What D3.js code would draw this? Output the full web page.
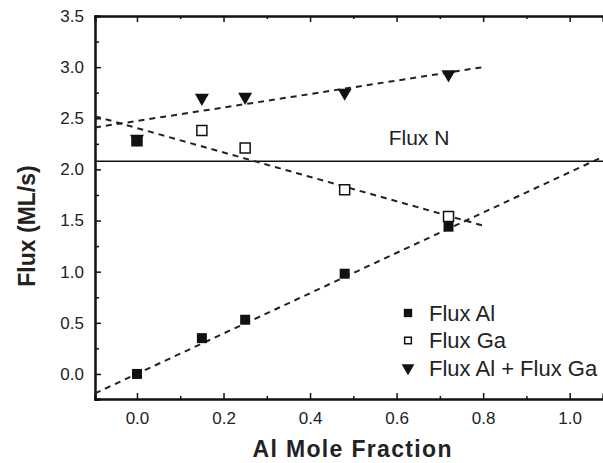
<!DOCTYPE html>
<meta charset="utf-8">
<script src="https://d3js.org/d3.v7.min.js"></script>
<style>
  body { margin: 0; background: #fff; }
  text { font-family: "Liberation Sans", Arial, sans-serif; fill: #222; }
</style>
<div id="chart"></div>
<script>
  // data
  const moleFraction = [0.0, 0.15, 0.25, 0.48, 0.72];
  const fluxAl = [0.0, 0.35, 0.53, 0.98, 1.44];
  const fluxGa = [2.28, 2.38, 2.21, 1.80, 1.54];
  const fluxTotal = [2.30, 2.70, 2.71, 2.75, 2.93];
  const fluxN = 2.08;

  // fitted dashed lines: [x0, y0, x1, y1]
  const fitAl = [[-0.097, -0.19], [1.08, 2.13]];
  const fitGa = [[-0.097, 2.52], [0.80, 1.45]];
  const fitTotal = [[-0.097, 2.41], [0.80, 3.00]];

  const xTicks = [0.0, 0.2, 0.4, 0.6, 0.8, 1.0];
  const yTicks = [0.0, 0.5, 1.0, 1.5, 2.0, 2.5, 3.0, 3.5];

  const W = 603, H = 463;
  const margin = {top: 16, right: 0, bottom: 64, left: 95};

  const svg = d3.select("#chart").append("svg")
      .attr("width", W).attr("height", H);

  const x = d3.scaleLinear().domain([-0.097, 1.077]).range([margin.left, W - margin.right]);
  const y = d3.scaleLinear().domain([-0.245, 3.5]).range([H - margin.bottom, margin.top]);

  // axes: ticks pointing inward
  svg.append("g")
      .attr("transform", `translate(0,${y(-0.245)})`)
      .call(d3.axisBottom(x).tickValues(xTicks).tickSize(-6).tickPadding(13).tickFormat(d3.format(".1f")));
  svg.append("g")
      .attr("transform", `translate(0,${y(-0.245)})`)
      .call(d3.axisBottom(x).tickValues([0.1, 0.3, 0.5, 0.7, 0.9]).tickSize(-3).tickFormat(""));
  svg.append("g")
      .attr("transform", `translate(0,${y(3.5)})`)
      .call(d3.axisTop(x).tickValues(xTicks).tickSize(-6).tickFormat(""));
  svg.append("g")
      .attr("transform", `translate(0,${y(3.5)})`)
      .call(d3.axisTop(x).tickValues([0.1, 0.3, 0.5, 0.7, 0.9]).tickSize(-3).tickFormat(""));
  svg.append("g")
      .attr("transform", `translate(${x(-0.097)},0)`)
      .call(d3.axisLeft(y).tickValues(yTicks).tickSize(-6).tickPadding(11).tickFormat(d3.format(".1f")));
  svg.append("g")
      .attr("transform", `translate(${x(-0.097)},0)`)
      .call(d3.axisLeft(y).tickValues([-0.25, 0.25, 0.75, 1.25, 1.75, 2.25, 2.75, 3.25]).tickSize(-4).tickFormat(""));

  svg.selectAll(".domain").attr("stroke", "#111").attr("stroke-width", 2);
  svg.selectAll(".tick line").attr("stroke", "#111").attr("stroke-width", 1.5);
  svg.selectAll(".tick text").style("font-size", "17px").style("fill", "#222");

  // Flux N horizontal line and label
  svg.append("line")
      .attr("x1", x(-0.097)).attr("x2", x(1.077))
      .attr("y1", y(fluxN)).attr("y2", y(fluxN))
      .attr("stroke", "#111").attr("stroke-width", 1.5);
  svg.append("text")
      .attr("x", 419).attr("y", 145)
      .attr("text-anchor", "middle")
      .style("font-size", "21px")
      .text("Flux N");

  // dashed fits
  const line = d3.line().x(d => x(d[0])).y(d => y(d[1]));
  [fitAl, fitGa, fitTotal].forEach(f => {
    svg.append("path")
      .attr("d", line(f))
      .attr("fill", "none")
      .attr("stroke", "#222")
      .attr("stroke-width", 2)
      .attr("stroke-dasharray", "6,5");
  });

  // markers
  const sq = d3.symbol().type(d3.symbolSquare).size(100);
  const tri = d3.symbol().type(d3.symbolTriangle).size(85);

  // at x = 0 the Ga and total points coincide and print as one solid blob
  svg.append("g").selectAll("path")
    .data(moleFraction.map((m, i) => [m, fluxGa[i], i]))
    .join("path")
      .attr("transform", d => `translate(${x(d[0])},${y(d[1])})`)
      .attr("d", sq)
      .attr("fill", d => d[2] === 0 ? "#111" : "#fff")
      .attr("stroke", "#111").attr("stroke-width", 1.5);

  svg.append("g").selectAll("path")
    .data(moleFraction.map((m, i) => [m, fluxTotal[i]]))
    .join("path")
      .attr("transform", d => `translate(${x(d[0])},${y(d[1])}) rotate(180)`)
      .attr("d", tri)
      .attr("fill", "#111");

  svg.append("g").selectAll("path")
    .data(moleFraction.map((m, i) => [m, fluxAl[i]]))
    .join("path")
      .attr("transform", d => `translate(${x(d[0])},${y(d[1])})`)
      .attr("d", sq)
      .attr("fill", "#111");

  // legend
  const legend = [
    {label: "Flux Al", sym: d3.symbol().type(d3.symbolSquare).size(70), fill: "#111", rot: 0},
    {label: "Flux Ga", sym: d3.symbol().type(d3.symbolSquare).size(45), fill: "#fff", rot: 0},
    {label: "Flux Al + Flux Ga", sym: d3.symbol().type(d3.symbolTriangle).size(70), fill: "#111", rot: 180}
  ];
  const lg = svg.append("g").attr("transform", "translate(408,313)");
  legend.forEach((d, i) => {
    lg.append("path")
      .attr("transform", `translate(0,${i * 27.5}) rotate(${d.rot})`)
      .attr("d", d.sym)
      .attr("fill", d.fill).attr("stroke", "#111").attr("stroke-width", d.fill === "#fff" ? 1.5 : 0);
    lg.append("text")
      .attr("x", 21).attr("y", i * 27.5).attr("dy", "0.36em")
      .style("font-size", "22px")
      .text(d.label);
  });

  // axis titles
  svg.append("text")
      .attr("x", 352).attr("y", 457)
      .attr("text-anchor", "middle")
      .attr("textLength", 199)
      .style("font-size", "23px").style("font-weight", "bold")
      .text("Al Mole Fraction");
  svg.append("text")
      .attr("transform", `translate(35,226) rotate(-90)`)
      .attr("text-anchor", "middle")
      .style("font-size", "23px").style("font-weight", "bold")
      .text("Flux (ML/s)");
</script>
